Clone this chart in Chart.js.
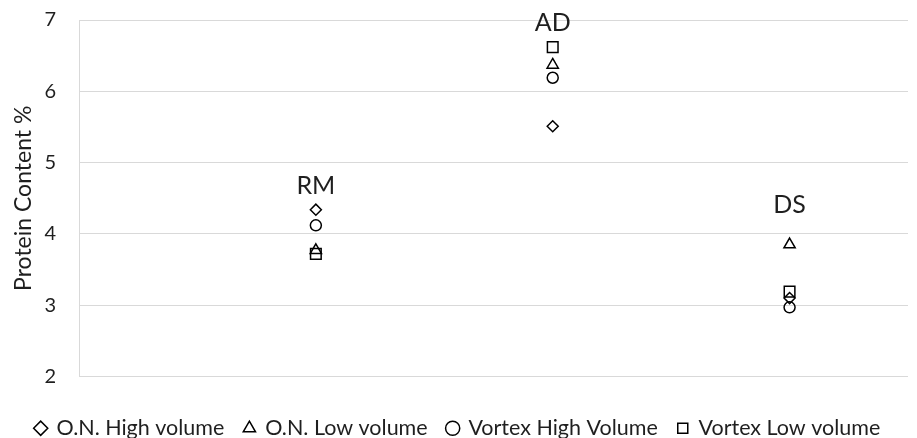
<!DOCTYPE html>
<html>
<head>
<meta charset="utf-8">
<script src="https://cdn.jsdelivr.net/npm/chart.js@4.4.1/dist/chart.umd.min.js"></script>
<style>
  html, body { margin: 0; padding: 0; background: #ffffff; overflow: hidden; }
  #wrap { width: 917px; height: 449px; }
</style>
</head>
<body>
<div id="wrap"><canvas id="c" width="917" height="449"></canvas></div>
<script>
const categories = ['RM', 'AD', 'DS'];
const seriesNames = ['O.N. High volume', 'O.N. Low volume', 'Vortex High Volume', 'Vortex Low volume'];
const onHighVolume = [4.34, 5.51, 3.10];
const onLowVolume = [3.77, 6.37, 3.85];
const vortexHighVolume = [4.12, 6.19, 2.97];
const vortexLowVolume = [3.72, 6.62, 3.19];
const categoryLabelAt = [4.67, 6.96, 4.40];
const yTicks = [2, 3, 4, 5, 6, 7];

const textColor = '#1f1f1f';
const gridColor = '#d9d9d9';

function toPoints(values) {
  return values.map((v, i) => ({ x: i + 1, y: v }));
}

const styles = [
  { pointStyle: 'rectRot', radius: 5.5 },
  { pointStyle: 'triangle', radius: 6.5 },
  { pointStyle: 'circle', radius: 5.5 },
  { pointStyle: 'rect', radius: 7.5 }
];
const seriesValues = [onHighVolume, onLowVolume, vortexHighVolume, vortexLowVolume];

const datasets = seriesValues.map((vals, k) => ({
  label: seriesNames[k],
  data: toPoints(vals),
  pointStyle: styles[k].pointStyle,
  pointRadius: styles[k].radius,
  pointHoverRadius: styles[k].radius,
  borderColor: '#000000',
  backgroundColor: 'rgba(255,255,255,0)',
  borderWidth: 1.5,
  showLine: false
}));

const categoryLabels = {
  id: 'categoryLabels',
  afterDatasetsDraw(chart) {
    const { ctx, scales } = chart;
    ctx.save();
    ctx.font = '25px Lato';
    ctx.fillStyle = textColor;
    ctx.textAlign = 'center';
    ctx.textBaseline = 'middle';
    categories.forEach((name, i) => {
      ctx.fillText(name, scales.x.getPixelForValue(i + 1), scales.y.getPixelForValue(categoryLabelAt[i]));
    });
    ctx.restore();
  }
};

new Chart(document.getElementById('c'), {
  type: 'scatter',
  data: { datasets },
  options: {
    responsive: false,
    animation: false,
    layout: { padding: { top: 0, right: 1, left: 0, bottom: 0 } },
    plugins: {
      tooltip: { enabled: false },
      legend: {
        position: 'bottom',
        labels: {
          usePointStyle: true,
          boxWidth: 10,
          boxHeight: 10,
          padding: 20,
          color: textColor,
          font: { family: 'Lato', size: 21.5 }
        }
      }
    },
    scales: {
      x: {
        type: 'linear',
        min: 0,
        max: 3.5,
        grid: { display: false },
        border: { display: false },
        ticks: { display: false },
        afterFit(scale) { scale.height = 21; }
      },
      y: {
        min: 2,
        max: 7,
        afterBuildTicks(scale) { scale.ticks = yTicks.map(v => ({ value: v })); },
        grid: { color: gridColor, lineWidth: 1, drawTicks: false },
        border: { display: true, color: gridColor, width: 1 },
        ticks: { padding: 23, color: textColor, font: { family: 'Lato', size: 20 } },
        title: {
          display: true,
          text: 'Protein Content %',
          color: textColor,
          font: { family: 'Lato', size: 23 },
          padding: { top: 10, bottom: 0 }
        },
        afterFit(scale) {
          scale.width = 79;
          scale.paddingTop = 20;
          scale.paddingBottom = 0;
        }
      }
    }
  },
  plugins: [categoryLabels]
});
</script>
</body>
</html>
